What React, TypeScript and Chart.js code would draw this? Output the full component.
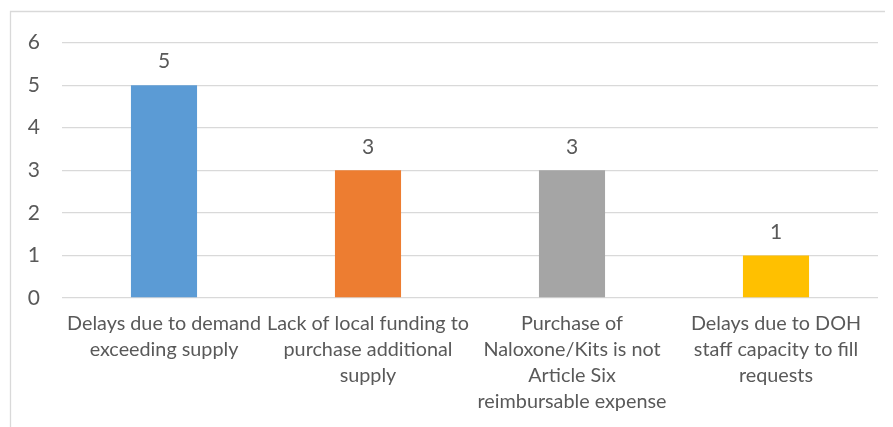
import React, { useEffect, useRef } from "react";
import { Chart, registerables } from "chart.js";

Chart.register(...registerables);

const categories: string[][] = [
  ["Delays due to demand", "exceeding supply"],
  ["Lack of local funding to", "purchase additional", "supply"],
  ["Purchase of", "Naloxone/Kits is not", "Article Six", "reimbursable expense"],
  ["Delays due to DOH", "staff capacity to fill", "requests"],
];
const values: number[] = [5, 3, 3, 1];
const barColors: string[] = ["#5B9BD5", "#ED7D31", "#A5A5A5", "#FFC000"];
const yTicks: number[] = [0, 1, 2, 3, 4, 5, 6];

const FONT = "Lato, 'Open Sans', sans-serif";
const TEXT = "#595959";

const framePlugin = {
  id: "frame",
  beforeDraw(chart: any) {
    const ctx = chart.ctx;
    ctx.save();
    ctx.strokeStyle = "#D9D9D9";
    ctx.lineWidth = 1.3;
    ctx.beginPath();
    ctx.moveTo(2.5, chart.height);
    ctx.lineTo(2.5, 3.5);
    ctx.lineTo(chart.width, 3.5);
    ctx.stroke();
    ctx.restore();
  },
};

const labelPlugin = {
  id: "valueLabels",
  afterDatasetsDraw(chart: any) {
    const ctx = chart.ctx;
    const meta = chart.getDatasetMeta(0);
    ctx.save();
    ctx.fillStyle = TEXT;
    ctx.font = `21px ${FONT}`;
    ctx.textAlign = "center";
    ctx.textBaseline = "bottom";
    meta.data.forEach((bar: any, i: number) => {
      ctx.fillText(String(values[i]), bar.x, bar.y - 13);
    });
    ctx.restore();
  },
};

export default function App() {
  const ref = useRef<HTMLCanvasElement | null>(null);
  useEffect(() => {
    if (!ref.current) return;
    const chart = new Chart(ref.current, {
      type: "bar",
      data: {
        labels: categories,
        datasets: [
          {
            data: values,
            backgroundColor: barColors,
            borderWidth: 0,
            categoryPercentage: 1,
            barPercentage: 0.324,
          },
        ],
      },
      options: {
        animation: false,
        responsive: false,
        maintainAspectRatio: false,
        layout: { padding: { left: 0, right: 15, top: 33, bottom: 0 } },
        plugins: {
          legend: { display: false },
          tooltip: { enabled: false },
        },
        scales: {
          x: {
            grid: { display: false, drawTicks: false },
            border: { display: false },
            ticks: {
              color: TEXT,
              font: { family: FONT, size: 19.8, lineHeight: "26px" as any },
              padding: 13,
              maxRotation: 0,
              minRotation: 0,
              autoSkip: false,
            },
            afterFit(scale: any) {
              scale.height = 129;
            },
          },
          y: {
            min: 0,
            max: 6,
            afterBuildTicks(scale: any) {
              scale.ticks = yTicks.map((v) => ({ value: v }));
            },
            grid: { color: "#D9D9D9", lineWidth: 1.3, drawTicks: false },
            border: { display: false },
            ticks: {
              color: TEXT,
              font: { family: FONT, size: 21 },
              padding: 22,
            },
            afterFit(scale: any) {
              scale.width = 54;
            },
          },
        },
      },
      plugins: [framePlugin, labelPlugin],
    });
    return () => chart.destroy();
  }, []);
  return <canvas ref={ref} width={885} height={419} style={{ display: "block" }} />;
}
